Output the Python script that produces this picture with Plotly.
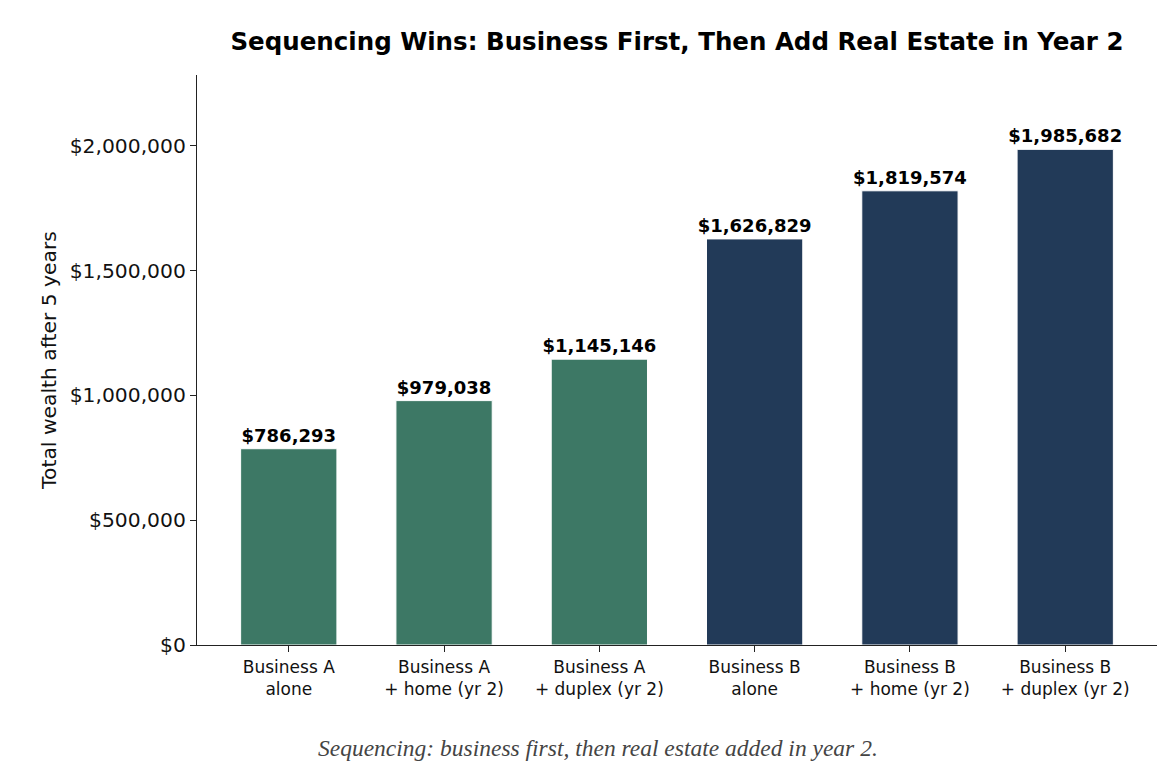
import plotly.graph_objects as go

# data
scenarios = [
    "Business A<br>alone",
    "Business A<br>+ home (yr 2)",
    "Business A<br>+ duplex (yr 2)",
    "Business B<br>alone",
    "Business B<br>+ home (yr 2)",
    "Business B<br>+ duplex (yr 2)",
]
wealth = [786293, 979038, 1145146, 1626829, 1819574, 1985682]
bar_colors = ["#3d7865", "#3d7865", "#3d7865", "#223a58", "#223a58", "#223a58"]
ytick_vals = [0, 500000, 1000000, 1500000, 2000000]

x_pos = list(range(len(scenarios)))

# page has an 8px body margin, so the figure is a bit smaller than the window
W, H = 1160, 768

fig = go.Figure()
fig.add_trace(go.Bar(
    x=x_pos,
    y=wealth,
    width=0.62,
    marker=dict(color=bar_colors, line=dict(color="white", width=1)),
    text=[f"${v:,.0f}" for v in wealth],
    textposition="outside",
    constraintext="none",
    textfont=dict(family="DejaVu Sans", size=18, color="black", weight="bold"),
    cliponaxis=False,
))

fig.update_layout(
    width=W, height=H,
    margin=dict(l=189, r=11, t=67, b=131),
    paper_bgcolor="white", plot_bgcolor="white",
    showlegend=False,
    font=dict(family="DejaVu Sans", color="black"),
    title=dict(
        text="<b>Sequencing Wins: Business First, Then Add Real Estate in Year 2</b>",
        x=(189 + 1149) / 2 / W, xanchor="center",
        y=1 - 33 / H, yanchor="middle",
        font=dict(family="DejaVu Sans", size=24.5, color="black"),
    ),
    xaxis=dict(
        range=[-0.591, 5.591],
        tickvals=x_pos, ticktext=scenarios,
        tickfont=dict(size=17, color="#111"),
        showline=True, linecolor="#222", linewidth=1.2,
        ticks="outside", ticklen=6, tickcolor="#222",
        showgrid=False, zeroline=False,
    ),
    yaxis=dict(
        range=[0, 1985682 * 1.15],
        tickvals=ytick_vals,
        ticktext=[f"${v:,.0f}" for v in ytick_vals],
        tickfont=dict(size=20.3, color="#111"),
        title=dict(text="Total wealth after 5 years", font=dict(size=20.3, color="#111"), standoff=7),
        showline=True, linecolor="#222", linewidth=1.2,
        ticks="outside", ticklen=6, tickcolor="#222",
        showgrid=False, zeroline=False,
    ),
)

fig.add_annotation(
    text="<i>Sequencing: business first, then real estate added in year 2.</i>",
    xref="paper", yref="paper",
    x=(590 - 189) / 960, y=(637 - 740) / 570,
    xanchor="center", yanchor="middle",
    showarrow=False,
    font=dict(family="Liberation Serif", size=23.5, color="#444"),
)

fig.write_html("out.html")
